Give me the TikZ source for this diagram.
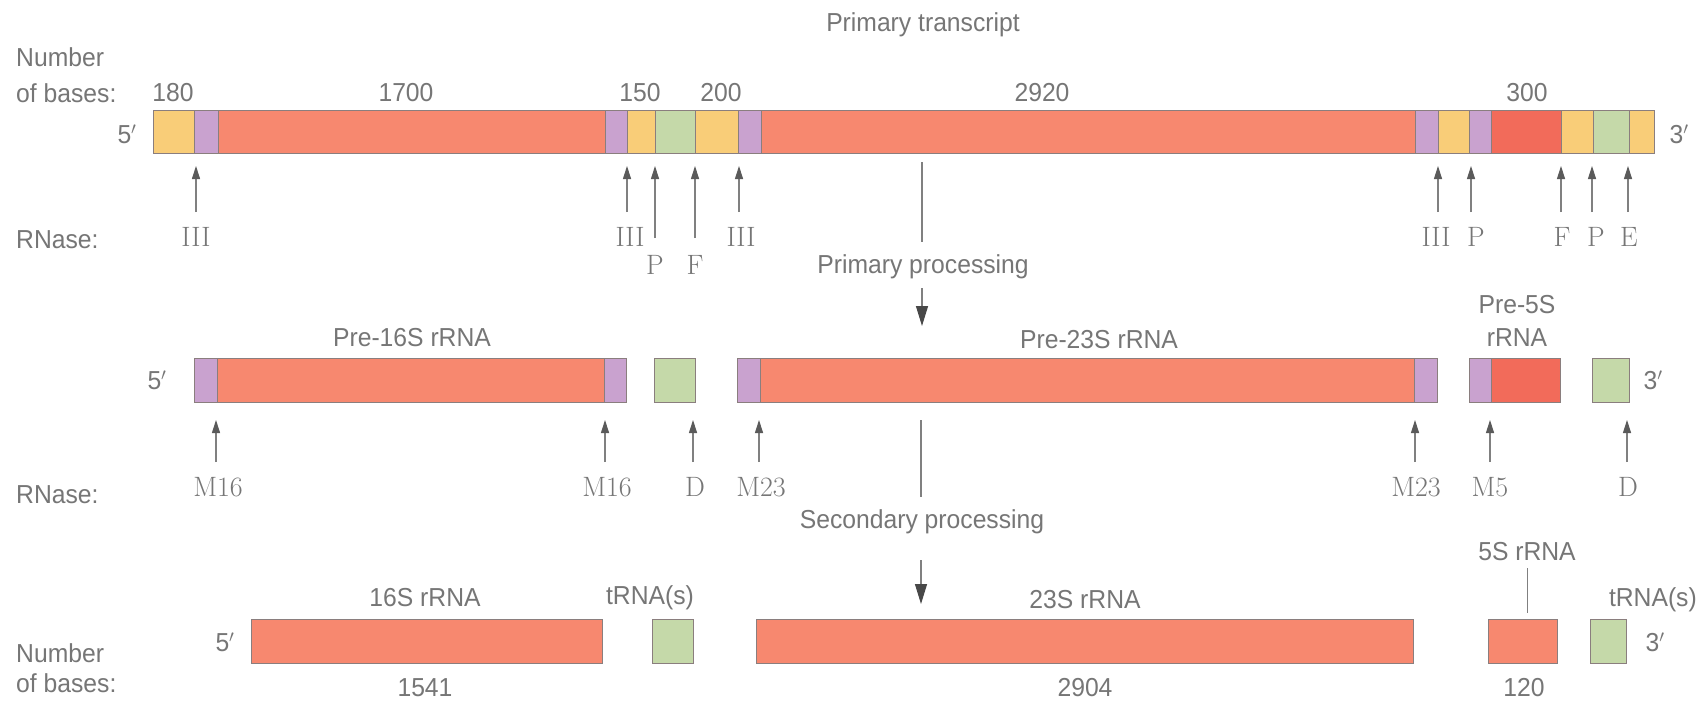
\documentclass[tikz,border=0pt]{standalone}
\usepackage{fontspec}
\setsansfont{Liberation Sans}[FakeStretch=0.95]
\usetikzlibrary{arrows.meta}
\definecolor{cyel}{HTML}{F9CD78}
\definecolor{cpur}{HTML}{C9A2CF}
\definecolor{cred}{HTML}{F7886F}
\definecolor{cred2}{HTML}{F26B5A}
\definecolor{cgrn}{HTML}{C5D9A9}
\definecolor{cedge}{HTML}{8A7E7E}
\definecolor{ctxt}{HTML}{767676}
\definecolor{carr}{HTML}{5A5A5A}
\begin{document}
\begin{tikzpicture}[x=1pt,y=-1pt,
  sans/.style={font=\sffamily\fontsize{26}{26}\selectfont, text=ctxt, inner sep=0pt},
  enz/.style={font=\rmfamily\fontsize{28}{28}\selectfont, text=ctxt, inner sep=0pt},
  seg/.style={draw=cedge, line width=1pt},
  cut/.style={draw=gray, line width=1.1pt, -{Triangle[width=8pt,length=13pt,color=carr]}},
  proc/.style={draw=gray, line width=1.2pt},
  procarr/.style={draw=gray, line width=1.2pt, -{Triangle[width=12pt,length=20pt,color=carr!80!black]}}
]
\fill[white] (0,0) rectangle (1700,701);
\useasboundingbox (0,0) rectangle (1700,701);

% ---------- Row 1: primary transcript ----------
\node[sans] (title) at (923,25) {Primary transcript};
\node[sans, anchor=west] (nb1) at (16,57) {Number};
\node[sans, anchor=west] (nb2) at (16,93) {of bases:};
\foreach \x/\t [count=\i] in {173/180, 406/1700, 640/150, 721/200, 1042/2920, 1527/300}
  \node[sans] (len\i) at (\x,93) {\t};
\foreach \a/\b/\c in {153/194/cyel, 194/218/cpur, 218/605/cred, 605/627/cpur, 627/655/cyel,
  655/695/cgrn, 695/738/cyel, 738/761/cpur, 761/1415/cred, 1415/1438/cpur, 1438/1469/cyel,
  1469/1491/cpur, 1491/1561/cred2, 1561/1593/cyel, 1593/1629/cgrn, 1629/1654/cyel}
  \draw[seg, fill=\c] (\a,110) rectangle (\b,153);
\node[sans] (p5a) at (127,134) {5$'$};
\node[sans] (p3a) at (1679,134) {3$'$};
\node[sans, anchor=west] (rn1) at (16,240) {RNase:};
\foreach \x/\tl/\lx/\ly/\t [count=\i] in {196/212/196/237/III, 627/212/630/237/III,
  655/238/655/265/P, 695/238/695/265/F, 739/212/741/237/III, 1438/212/1436/237/III,
  1471/212/1476/237/P, 1561/212/1562/237/F, 1592/212/1596/237/P, 1628/212/1629/237/E}{
  \coordinate (ta\i) at (\x,166);
  \coordinate (sa\i) at (\x,\tl);
  \node[enz] (ea\i) at (\lx,\ly) {\t};
  \draw[cut] (sa\i) -- (ta\i);
}

% primary processing
\coordinate (pp0) at (922,162);
\coordinate (pp0b) at (922,242);
\node[sans] (pp) at (923,267) {Primary processing};
\coordinate (pp1a) at (922,288);
\coordinate (pp1) at (922,326);
\draw[proc] (pp0) -- (pp0b);
\draw[procarr] (pp1a) -- (pp1);

% ---------- Row 2 ----------
\foreach \a/\b/\c in {194/217/cpur, 217/604/cred, 604/626/cpur, 654/695/cgrn,
  737/760/cpur, 760/1414/cred, 1414/1437/cpur, 1469/1491/cpur, 1491/1560/cred2, 1592/1629/cgrn}
  \draw[seg, fill=\c] (\a,358) rectangle (\b,402);
\node[sans] (p5b) at (157,380) {5$'$};
\node[sans] (p3b) at (1653,380) {3$'$};
\node[sans] (pre16) at (412,338) {Pre-16S rRNA};
\node[sans] (pre23) at (1099,340) {Pre-23S rRNA};
\node[sans] (pre5a) at (1517,305) {Pre-5S};
\node[sans] (pre5b) at (1517,338) {rRNA};
\node[sans, anchor=west] (rn2) at (16,495) {RNase:};
\foreach \x/\lx/\t [count=\i] in {216/218/M16, 605/607/M16, 693/695/D, 759/761/M23,
  1415/1416/M23, 1490/1490/M5, 1627/1628/D}{
  \coordinate (tb\i) at (\x,420);
  \coordinate (sb\i) at (\x,462);
  \node[enz] (eb\i) at (\lx,487) {\t};
  \draw[cut] (sb\i) -- (tb\i);
}

% secondary processing
\coordinate (sp0) at (921,420);
\coordinate (sp0b) at (921,497);
\node[sans] (sp) at (922,522) {Secondary processing};
\coordinate (sp1a) at (921,560);
\coordinate (sp1) at (921,604);
\draw[proc] (sp0) -- (sp0b);
\draw[procarr] (sp1a) -- (sp1);

% ---------- Row 3 ----------
\foreach \a/\b/\c in {251/602/cred, 652/693/cgrn, 756/1413/cred, 1488/1557/cred, 1590/1626/cgrn}
  \draw[seg, fill=\c] (\a,619) rectangle (\b,663);
\node[sans] (p5c) at (225,642) {5$'$};
\node[sans] (p3c) at (1655,642) {3$'$};
\node[sans] (r16) at (425,598) {16S rRNA};
\node[sans] (trna1) at (650,598) {tRNA(s)};
\node[sans] (r23) at (1085,600) {23S rRNA};
\node[sans] (r5) at (1527,552) {5S rRNA};
\coordinate (r5a) at (1527,568);
\coordinate (r5b) at (1527,613);
\draw[draw=gray, line width=1pt] (r5a) -- (r5b);
\node[sans, anchor=east] (trna2) at (1697,600) {tRNA(s)};
\node[sans] (n16) at (425,688) {1541};
\node[sans] (n23) at (1085,688) {2904};
\node[sans] (n5) at (1524,688) {120};
\node[sans, anchor=west] (nb3) at (16,653) {Number};
\node[sans, anchor=west] (nb4) at (16,683) {of bases:};
\end{tikzpicture}
\end{document}
